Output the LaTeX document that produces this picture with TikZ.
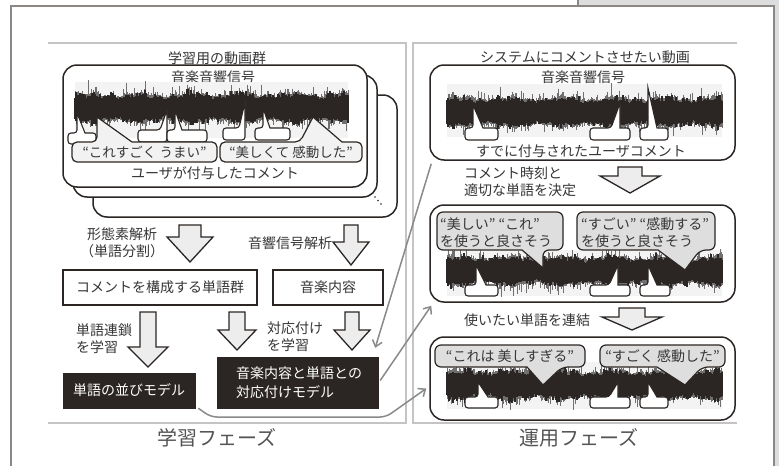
\documentclass[tikz,border=0pt]{standalone}
\usepackage{fontspec}
\setmainfont{Noto Sans CJK JP}
\usetikzlibrary{arrows.meta}
\definecolor{ink}{HTML}{2B2623}
\definecolor{txt}{HTML}{363636}
\definecolor{pan}{HTML}{C4C4C4}
\definecolor{frm}{HTML}{8C8782}
\definecolor{bgg}{HTML}{DDDDDD}
\definecolor{cgray}{HTML}{DEDEDE}
\definecolor{bubl}{HTML}{F2F2F2}
\definecolor{agray}{HTML}{EDEDED}
\definecolor{lgray}{HTML}{8A8A8A}
\definecolor{band}{HTML}{F3F3F3}
\definecolor{spk}{HTML}{707070}
\tikzset{
  lbl/.style={text=txt, font=\fontsize{14}{17}\selectfont, inner sep=0pt, align=left},
  phase/.style={text=txt!85, font=\fontsize{20}{24}\selectfont, inner sep=0pt},
  wbox/.style={draw=ink, line width=1.5pt, fill=white, rounded corners=14pt, inner sep=0pt},
  sqbox/.style={draw=ink, line width=2pt, fill=white, inner sep=0pt, text=txt, font=\fontsize{14}{17}\selectfont},
  blkbox/.style={draw=ink, fill=ink, inner sep=0pt, text=white, font=\fontsize{14}{19}\selectfont, align=left},
  panel/.style={draw=pan, line width=1.6pt},
  frame/.style={draw=frm, line width=2pt},
  barrow/.style={draw=ink, fill=agray, line width=1.3pt, line join=miter},
  smallbub/.style={draw=ink, fill=white, line width=1.1pt, line join=miter},
  bigbub/.style={draw=ink, fill=bubl, line width=1.2pt, line join=miter},
  callout/.style={draw=ink, fill=cgray, line width=1.2pt, line join=miter},
  conn/.style={draw=lgray, line width=1.5pt, -{Straight Barb[length=6pt,width=10pt]}},
}
% pointer up: style, x0, y0(top), x1, y1(bottom), b1, b2, apex x, apex y
\newcommand\BubUp[9]{\draw[#1] (#7,#3) [rounded corners=\bubr] -- (#4,#3) -- (#4,#5) -- (#2,#5) -- (#2,#3) -- (#6,#3) [sharp corners] -- (#8,#9) -- cycle;}
% pointer down
\newcommand\BubDn[9]{\draw[#1] (#6,#5) [rounded corners=\bubr] -- (#2,#5) -- (#2,#3) -- (#4,#3) -- (#4,#5) -- (#7,#5) [sharp corners] -- (#8,#9) -- cycle;}
\def\bubr{3pt}
% block arrow: cx, top, headstart, tip, shaft half, head half
\newcommand\BArrow[6]{\draw[barrow] ({#1-#5},#2) -- ({#1+#5},#2) -- ({#1+#5},#3) -- ({#1+#6},#3) -- (#1,#4) -- ({#1-#6},#3) -- ({#1-#5},#3) -- cycle;}
% waveform: x0, count, yc, seed
\newcommand\Wave[4]{%
  \pgfmathsetseed{#4}%
  \foreach \i in {0,...,#2}{%
    \pgfmathsetmacro\wx{#1+\i}%
    \pgfmathsetmacro\wm{1+0.12*sin(\i*7)+0.08*sin(\i*23)}%
    \pgfmathsetmacro\wsa{#3-\wm*(13+16*rnd*rnd*rnd)}%
    \pgfmathsetmacro\wsb{#3+\wm*(13+14*rnd*rnd*rnd)}%
    \pgfmathsetmacro\wca{#3-\wm*(10+7*rnd*rnd)}%
    \pgfmathsetmacro\wcb{#3+\wm*(10+7*rnd*rnd)}%
    \draw[spk, line width=0.7pt] (\wx,\wsa) -- (\wx,\wsb);
    \draw[ink, line width=1.2pt] (\wx,\wca) -- (\wx,\wcb);
  }%
}
\begin{document}
\begin{tikzpicture}[x=1pt,y=-1pt]
\useasboundingbox (0,0) rectangle (779,466);
\fill[white] (0,0) rectangle (779,466);
% outer page frame and background
\fill[bgg] (578,0) rectangle (779,6);
\fill[bgg] (775,0) rectangle (779,466);
\draw[frame] (11,466) -- (11,6) -- (578,6) -- (578,0);
\draw[frame] (578,6) -- (774,6) -- (774,466);
% panels
\draw[panel] (48,43) -- (406,43) -- (406,423) -- (48,423);
\draw[panel] (737,43) -- (413,43) -- (413,423) -- (737,423);
\node[phase] (ph1) at (217,438) {学習フェーズ};
\node[phase] (ph2) at (579,438) {運用フェーズ};

% ===== left: stack of videos
\node[lbl] (ttl1) at (217,58) {学習用の動画群};
\node[wbox, minimum width=304pt, minimum height=122pt] (st3) at (245,156) {};
\node[wbox, minimum width=304pt, minimum height=122pt] (st2) at (225,136) {};
\node[wbox, minimum width=304pt, minimum height=122pt] (front) at (215,126) {};
\fill[ink] (375,197) circle (0.9pt) (378,200.5) circle (0.9pt) (381,204) circle (0.9pt);
\node[lbl] (sig1) at (213,77) {音楽音響信号};
\fill[band] (75,82) rectangle (348,138);
\Wave{75}{273}{108}{11}
\BubUp{smallbub}{68}{133}{96}{144}{77}{85}{77}{113}
\BubUp{smallbub}{138}{130}{167}{142}{160}{167}{167}{110}
\BubUp{smallbub}{167}{130}{207}{142}{175}{182}{175}{110}
\BubUp{smallbub}{223}{128}{245}{140}{239}{245}{245}{102}
\BubUp{smallbub}{255}{128}{290}{140}{263}{270}{263}{108}
\def\bubr{5pt}
\BubUp{bigbub}{72}{142}{217}{162}{97}{132}{97}{117}
\BubUp{bigbub}{220}{142}{362}{162}{300}{342}{313}{117}
\def\bubr{3pt}
\node[lbl, font=\fontsize{13.5}{16}\selectfont] (q1) at (144.5,152) {“これすごく うまい”};
\node[lbl, font=\fontsize{13.5}{16}\selectfont] (q2) at (291,152) {“美しくて 感動した”};
\node[lbl] (ucm) at (215,173) {ユーザが付与したコメント};

% ===== left lower flow
\BArrow{190}{225}{237}{262}{11}{23}
\BArrow{351}{225}{242}{265}{7}{18}
\node[lbl, align=center] (mor) at (122,243) {形態素解析\\（単語分割）};
\node[lbl] (aco) at (290,243) {音響信号解析};
\node[sqbox, minimum width=194pt, minimum height=35pt] (wds) at (160,287.5) {コメントを構成する単語群};
\node[sqbox, minimum width=110pt, minimum height=35pt] (mus) at (328,287.5) {音楽内容};
\BArrow{148}{312}{347}{367}{8}{20}
\BArrow{237}{312}{330}{350}{8}{19}
\BArrow{352}{312}{330}{350}{7}{18}
\node[lbl, anchor=west] (lrn1) at (76,338.5) {単語連鎖\\を学習};
\node[lbl, anchor=west] (lrn2) at (267,336.5) {対応付け\\を学習};
\node[blkbox, minimum width=132pt, minimum height=35pt] (mA) at (129,390.5) {単語の並びモデル};
\node[blkbox, minimum width=161pt, minimum height=51pt] (mB) at (297.5,382.5) {};
\node[blkbox, anchor=west] (mBt) at (236,382.5) {音楽内容と単語との\\対応付けモデル};

% ===== right: box 1
\node[lbl] (ttl2) at (585,57) {システムにコメントさせたい動画};
\node[wbox, minimum width=305pt, minimum height=95pt] (rb1) at (582.5,112.5) {};
\node[lbl] (sig2) at (583,77) {音楽音響信号};
\fill[band] (447,84) rectangle (722,137);
\Wave{447}{275}{112}{23}
\BubUp{smallbub}{465}{128}{498}{140}{473}{483}{473}{105}
\BubUp{smallbub}{590}{128}{630}{140}{611}{620}{620}{103}
\BubUp{smallbub}{640}{128}{668}{140}{648}{657}{648}{88}
\node[lbl] (exc) at (581,151) {すでに付与されたユーザコメント};

\BArrow{630}{167}{176}{193}{12}{30}
\node[lbl, anchor=west] (dec) at (464,181.5) {コメント時刻と\\適切な単語を決定};

% ===== right: box 2
\node[wbox, minimum width=305pt, minimum height=97pt] (rb2) at (582.5,253.5) {};
\fill[band] (447,250) rectangle (722,296);
\Wave{447}{275}{271}{37}
\BubUp{smallbub}{465}{285}{498}{296}{476}{486}{476}{265}
\BubUp{smallbub}{590}{285}{630}{296}{609}{618}{618}{265}
\BubUp{smallbub}{640}{285}{670}{296}{648}{657}{648}{265}
\def\bubr{6pt}
\BubDn{callout}{437}{212}{563}{250}{522}{543}{543}{268}
\BubDn{callout}{577}{212}{715}{250}{658}{700}{685}{270}
\def\bubr{3pt}
\node[lbl, anchor=west] (c1) at (440,233) {“美しい” “これ”\\を使うと良さそう};
\node[lbl, anchor=west] (c2) at (581,233) {“すごい” “感動する”\\を使うと良さそう};

\BArrow{632}{308}{317}{330}{13}{30}
\node[lbl, anchor=west] (cat) at (464,320) {使いたい単語を連結};

% ===== right: box 3
\node[wbox, minimum width=305pt, minimum height=83pt] (rb3) at (582.5,378.5) {};
\fill[band] (447,362) rectangle (722,409);
\Wave{447}{275}{385}{53}
\BubUp{smallbub}{465}{397}{498}{408}{478}{488}{478}{382}
\BubUp{smallbub}{590}{397}{630}{408}{609}{618}{618}{382}
\BubUp{smallbub}{640}{397}{668}{408}{648}{657}{648}{382}
\def\bubr{6pt}
\BubDn{callout}{435}{345}{585}{367}{527}{562}{543}{385}
\BubDn{callout}{600}{345}{725}{367}{657}{702}{685}{385}
\def\bubr{3pt}
\node[lbl] (c3) at (510,356) {“これは 美しすぎる”};
\node[lbl] (c4) at (662.5,356) {“すごく 感動した”};

% ===== gray connectors
\draw[conn] ([shift={(2,3)}]rb1.south west) -- ([shift={(-3,-9)}]mB.north east);
\draw[conn] ([shift={(2,-2)}]mB.east) -- ([shift={(2,3)}]rb2.south west);
\draw[conn, rounded corners=6pt] ([shift={(3,0)}]mA.south east) -- (211,417) -- (386,417) -- ([shift={(-3,10)}]rb3.west);
\end{tikzpicture}
\end{document}
